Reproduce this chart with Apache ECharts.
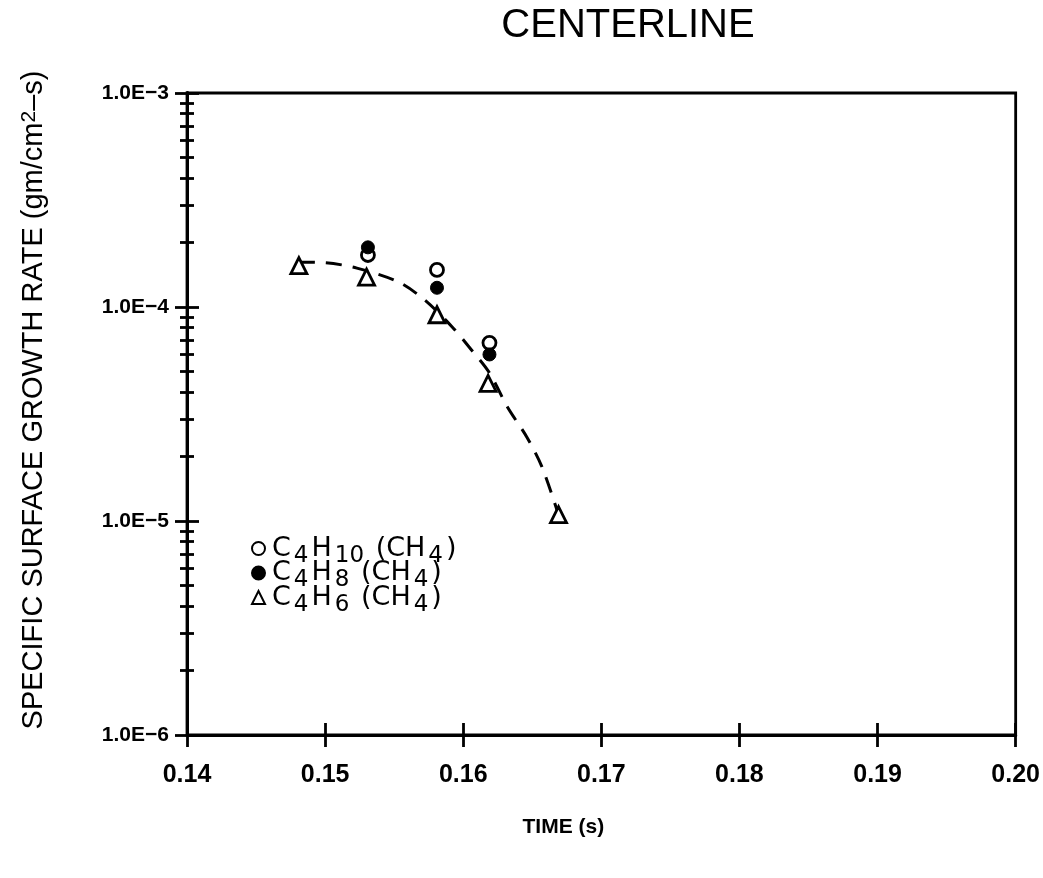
<!DOCTYPE html>
<html>
<head>
<meta charset="utf-8">
<script src="https://cdn.jsdelivr.net/npm/echarts@6/dist/echarts.min.js"></script>
<style>html,body{margin:0;padding:0;background:#fff}#c{width:1043px;height:878px}</style>
</head>
<body>
<div id="c"></div>
<script>
// ---- data ----
const timeC4H6 = [0.1481, 0.1530, 0.1581, 0.1618, 0.1669];
const rateC4H6 = [1.56e-4, 1.38e-4, 9.2e-5, 4.4e-5, 1.07e-5];
const timeCirc = [0.1531, 0.1581, 0.1619];
const rateC4H10 = [1.75e-4, 1.49e-4, 6.8e-5];
const rateC4H8 = [1.9e-4, 1.23e-4, 6.0e-5];
const fitTime = [0.1481, 0.1500, 0.1523, 0.1553, 0.1572, 0.1592, 0.1606, 0.1619, 0.1632, 0.1646, 0.1657, 0.1669];
const fitRate = [1.62e-4, 1.61e-4, 1.52e-4, 1.31e-4, 1.08e-4, 8.07e-5, 6.30e-5, 4.92e-5, 3.41e-5, 2.47e-5, 1.79e-5, 1.07e-5];
const xTickValues = [0.14, 0.15, 0.16, 0.17, 0.18, 0.19, 0.20];
const yMajorValues = [1e-6, 1e-5, 1e-4, 1e-3];
const yMinorValues = [];
[1e-6, 1e-5, 1e-4].forEach(d => { for (let k = 2; k <= 9; k++) yMinorValues.push(k * d); });
const seriesNames = ['C4H10 (CH4)', 'C4H8 (CH4)', 'C4H6 (CH4)'];
const seriesLabels = {
  'C4H10 (CH4)': '{n|C}{s|4}{n|H}{s|10}{n| (CH}{s|4}{n|)}',
  'C4H8 (CH4)': '{n|C}{s|4}{n|H}{s|8}{n| (CH}{s|4}{n|)}',
  'C4H6 (CH4)': '{n|C}{s|4}{n|H}{s|6}{n| (CH}{s|4}{n|)}'
};
const pairs = (xs, ys) => xs.map((x, i) => [x, ys[i]]);

const FONT = 'Liberation Sans';
const LFONT = 'DejaVu Sans';
const lineStyle = { color: '#000', width: 2.8 };

function yAx(opts) {
  return Object.assign({
    type: 'log', logBase: 10, min: 1e-6, max: 1e-3, position: 'left',
    axisLine: { show: true, lineStyle },
    splitLine: { show: false },
    axisLabel: { show: false },
  }, opts);
}
function xAx(opts) {
  return Object.assign({
    type: 'value', min: 0.14, max: 0.20, interval: 0.01, position: 'bottom',
    axisLine: { show: true, lineStyle },
    splitLine: { show: false },
    axisLabel: { show: false },
  }, opts);
}

const chart = echarts.init(document.getElementById('c'), null, { renderer: 'canvas' });
chart.setOption({
  backgroundColor: '#fff',
  animation: false,
  title: {
    text: 'CENTERLINE', left: 623, top: 1, textAlign: 'center',
    textStyle: { fontFamily: FONT, fontSize: 40, fontWeight: 'normal', color: '#000' }
  },
  grid: { left: 187, right: 27, top: 93, bottom: 143, show: true, borderColor: '#000', borderWidth: 2.8, backgroundColor: 'transparent' },
  legend: {
    data: seriesNames, orient: 'vertical', left: 251, top: 535, itemGap: -8, padding: 0,
    itemWidth: 13, itemHeight: 13,
    formatter: n => seriesLabels[n],
    textStyle: {
      color: '#000', fontFamily: LFONT,
      rich: {
        n: { fontSize: 27, fontFamily: LFONT, color: '#000', lineHeight: 38, verticalAlign: 'middle', padding: [0, 2, 0, 2] },
        s: { fontSize: 23, fontFamily: LFONT, color: '#000', lineHeight: 38, verticalAlign: 'bottom', padding: [0, 1, 0, 1] }
      }
    }
  },
  xAxis: [
    xAx({
      axisTick: { show: true, inside: false, length: 12, lineStyle, customValues: xTickValues },
      axisLabel: { show: true, margin: 28, customValues: xTickValues, formatter: v => v.toFixed(2),
        fontFamily: FONT, fontSize: 25, fontWeight: 'bold', color: '#000' },
      name: 'TIME (s)', nameLocation: 'middle', nameGap: 82,
      nameTextStyle: { fontFamily: FONT, fontSize: 21, fontWeight: 'bold', color: '#000', padding: [0, 76, 0, 0] }
    }),
    xAx({ axisTick: { show: true, inside: true, length: 12, lineStyle, customValues: xTickValues } })
  ],
  yAxis: [
    yAx({
      axisTick: { show: true, inside: false, length: 12, lineStyle, customValues: yMajorValues },
      axisLabel: { show: true, margin: 18, customValues: yMajorValues,
        formatter: v => '1.0E\u2212' + Math.round(-Math.log10(v)),
        fontFamily: FONT, fontSize: 21, fontWeight: 'bold', color: '#000' },
      name: '{n|SPECIFIC SURFACE GROWTH RATE (gm/cm}{sup|2}{n|\u2013s)}',
      nameLocation: 'middle', nameGap: 138,
      nameTextStyle: { color: '#000', padding: [0, 0, 0, 28], rich: {
        n: { fontFamily: FONT, fontSize: 29, color: '#000', lineHeight: 30, verticalAlign: 'middle' },
        sup: { fontFamily: FONT, fontSize: 21, color: '#000', lineHeight: 8, verticalAlign: 'top' }
      } }
    }),
    yAx({ axisTick: { show: true, inside: true, length: 12, lineStyle, customValues: yMajorValues } }),
    yAx({ axisTick: { show: true, inside: false, length: 7, lineStyle, customValues: yMinorValues } }),
    yAx({ axisTick: { show: true, inside: true, length: 7, lineStyle, customValues: yMinorValues } })
  ],
  series: [
    {
      name: 'fit', type: 'line', data: pairs(fitTime, fitRate), smooth: 0.3, showSymbol: false, symbol: 'none',
      lineStyle: { color: '#000', width: 3, type: [16, 11] }, silent: true, z: 1
    },
    {
      name: 'C4H10 (CH4)', type: 'scatter', data: pairs(timeCirc, rateC4H10), symbol: 'circle', symbolSize: 13,
      itemStyle: { color: '#fff', borderColor: '#000', borderWidth: 2.8, opacity: 1 }, z: 3
    },
    {
      name: 'C4H8 (CH4)', type: 'scatter', data: pairs(timeCirc, rateC4H8), symbol: 'circle', symbolSize: 13,
      itemStyle: { color: '#000', borderColor: '#000', borderWidth: 1, opacity: 1 }, z: 3
    },
    {
      name: 'C4H6 (CH4)', type: 'scatter', data: pairs(timeC4H6, rateC4H6), symbol: 'triangle', symbolSize: 16,
      itemStyle: { color: '#fff', borderColor: '#000', borderWidth: 2.8, opacity: 1 }, z: 3
    }
  ]
});
</script>
</body>
</html>
